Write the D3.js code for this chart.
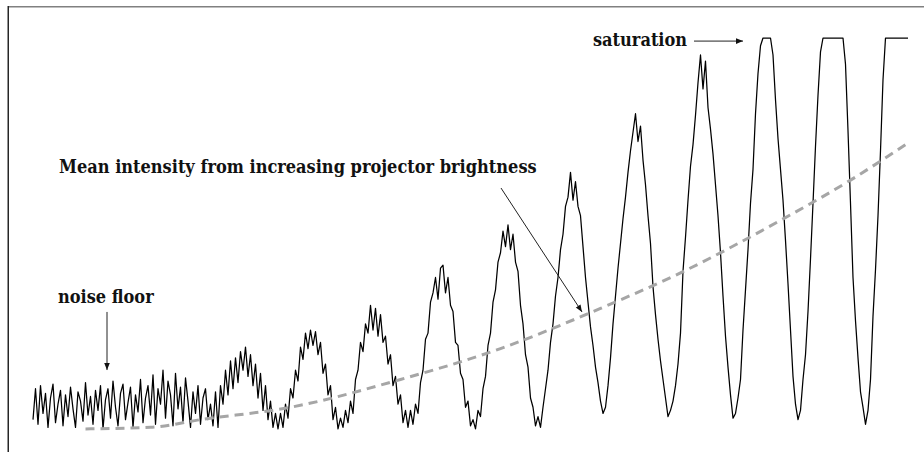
<!DOCTYPE html>
<html>
<head>
<meta charset="utf-8">
<script src="https://cdn.jsdelivr.net/npm/d3@7"></script>
<style>
  body { margin: 0; background: #fff; }
  svg { display: block; }
</style>
</head>
<body>
<svg class="chart"></svg>
<script>
// camera intensity (0-255) per frame
var signal = [
  8, 28, 5, 30, 12, 25, 3, 22, 31, 6, 18, 27, 4, 24, 10, 29, 15, 3, 26, 20, 7, 32, 11, 23, 5, 27,
  14, 30, 2, 21, 28, 9, 33, 16, 4, 25, 31, 8, 19, 29, 3, 24, 13, 34, 6, 22, 30, 11, 37, 5, 28, 18,
  40, 9, 33, 24, 4, 38, 15, 29, 6, 35, 20, 3, 26, 12, 30, 5, 22, 28, 8, 18, 4, 26, 3, 30, 18, 40, 24, 46,
  28, 48, 32, 52, 40, 55, 36, 50, 30, 44, 22, 38, 14, 30, 8, 20, 3, 12,
  2, 12, 3, 18, 9, 28, 22, 40, 33, 55, 47, 64, 54, 66, 56, 65, 50, 58, 38, 44, 24, 30, 8, 16, 2, 9,
  3, 14, 6, 20, 12, 34, 40, 58, 52, 70, 64, 82, 66, 80, 62, 76, 58, 62, 44, 50, 30, 36, 18, 24, 6, 14, 3,
  14, 5, 18, 12, 32, 40, 60, 64, 84, 90, 100, 86, 106, 108, 90, 100, 82, 78, 58, 56, 38, 34, 16, 20, 4, 8, 2,
  14, 10, 28, 36, 56, 64, 84, 92, 110, 116, 130, 120, 134, 118, 128, 110, 104, 82, 70, 50, 42, 22, 16, 4, 10, 3,
  16, 28, 40, 58, 70, 88, 100, 118, 128, 146, 152, 168, 150, 162, 146, 140, 120, 100, 84, 68, 56, 42, 32, 20, 12,
  16, 30, 48, 70, 88, 106, 122, 138, 152, 168, 182, 194, 206, 188, 198, 176, 160, 140, 122, 94, 76, 60, 46, 34, 22, 10, 14,
  20, 30, 44, 64, 104, 126, 150, 172, 186, 205, 226, 244, 222, 240, 210, 196, 180, 160, 140, 116, 88, 62, 42, 24, 9,
  12, 22, 34, 66, 92, 118, 148, 170, 206, 232, 250, 255, 255, 255, 255, 244, 215, 190, 170, 150, 124, 96, 66, 36, 18, 8,
  14, 34, 50, 78, 112, 148, 185, 218, 246, 255, 255, 255, 255, 255, 255, 255, 255, 255, 238, 195, 148, 100, 72, 48, 26, 16, 5,
  14, 34, 75, 105, 140, 182, 228, 255, 255, 255, 255, 255, 255, 255, 255, 255, 255
];

// mean intensity (dashed grey curve)
var meanFrame = [21, 47, 67, 103, 147, 187, 227, 259, 299, 327, 349];
var meanLevel = [2, 3, 8, 16, 34, 54, 80, 103, 137, 163, 186];

// annotations, anchored in frame / intensity units
var labels = [
  {text: "saturation", frame: 224, level: 249.8},
  {text: "Mean intensity from increasing projector brightness", frame: 10.4, level: 167.6},
  {text: "noise floor", frame: 10, level: 83.5}
];
var arrows = [
  {from: [264.4, 253], to: [284, 253]},
  {from: [187.2, 157.9], to: [219.6, 77.7]},
  {from: [29.6, 77.7], to: [29.6, 40.1]}
];

var W = 924, H = 452;
var margin = {top: 38, right: 16, bottom: 20, left: 33};
var width = W - margin.left - margin.right;
var height = H - margin.top - margin.bottom;

var svg = d3.select(".chart")
  .attr("width", W)
  .attr("height", H);

svg.append("defs").append("marker")
  .attr("id", "head")
  .attr("viewBox", "0 0 10 10")
  .attr("refX", 10)
  .attr("refY", 5)
  .attr("markerWidth", 8)
  .attr("markerHeight", 7)
  .attr("markerUnits", "userSpaceOnUse")
  .attr("orient", "auto")
  .append("path")
  .attr("d", "M0,1 L10,5 L0,9 z")
  .attr("fill", "#111");

// frame edges
svg.append("line")
  .attr("x1", 8).attr("x2", W)
  .attr("y1", 6.75).attr("y2", 6.75)
  .attr("stroke", "#808080")
  .attr("stroke-width", 1.5);
svg.append("line")
  .attr("x1", 8.25).attr("x2", 8.25)
  .attr("y1", 6).attr("y2", H)
  .attr("stroke", "#262626")
  .attr("stroke-width", 1.5);

var chart = svg.append("g")
  .attr("transform", "translate(" + margin.left + "," + margin.top + ")");

var xChart = d3.scaleLinear()
  .domain([0, signal.length - 1])
  .range([0, width]);

var yChart = d3.scaleLinear()
  .domain([0, 255])
  .range([height, 0]);

var line = d3.line()
  .x(function(d, i){ return xChart(i); })
  .y(function(d){ return yChart(d); });

chart.append("path")
  .datum(signal)
  .attr("fill", "none")
  .attr("stroke", "#000")
  .attr("stroke-width", 1.25)
  .attr("stroke-linejoin", "round")
  .attr("d", line);

var meanLine = d3.line()
  .x(function(d){ return xChart(d); })
  .y(function(d, i){ return yChart(meanLevel[i]); })
  .curve(d3.curveMonotoneX);

chart.append("path")
  .datum(meanFrame)
  .attr("fill", "none")
  .attr("stroke", "#a6a6a6")
  .attr("stroke-width", 3)
  .attr("stroke-dasharray", "9,6")
  .attr("d", meanLine);

chart.selectAll(".arrow")
  .data(arrows)
  .enter()
  .append("line")
  .attr("class", "arrow")
  .attr("x1", function(d){ return xChart(d.from[0]); })
  .attr("y1", function(d){ return yChart(d.from[1]); })
  .attr("x2", function(d){ return xChart(d.to[0]); })
  .attr("y2", function(d){ return yChart(d.to[1]); })
  .attr("stroke", "#222")
  .attr("stroke-width", 1)
  .attr("marker-end", "url(#head)");

chart.selectAll(".note")
  .data(labels)
  .enter()
  .append("text")
  .attr("class", "note")
  .attr("x", function(d){ return xChart(d.frame); })
  .attr("y", function(d){ return yChart(d.level); })
  .attr("font-family", "'DejaVu Serif Condensed', 'DejaVu Serif', serif")
  .attr("font-stretch", "condensed")
  .attr("font-weight", "bold")
  .attr("font-size", "18px")
  .attr("fill", "#111")
  .text(function(d){ return d.text; });
</script>
</body>
</html>
